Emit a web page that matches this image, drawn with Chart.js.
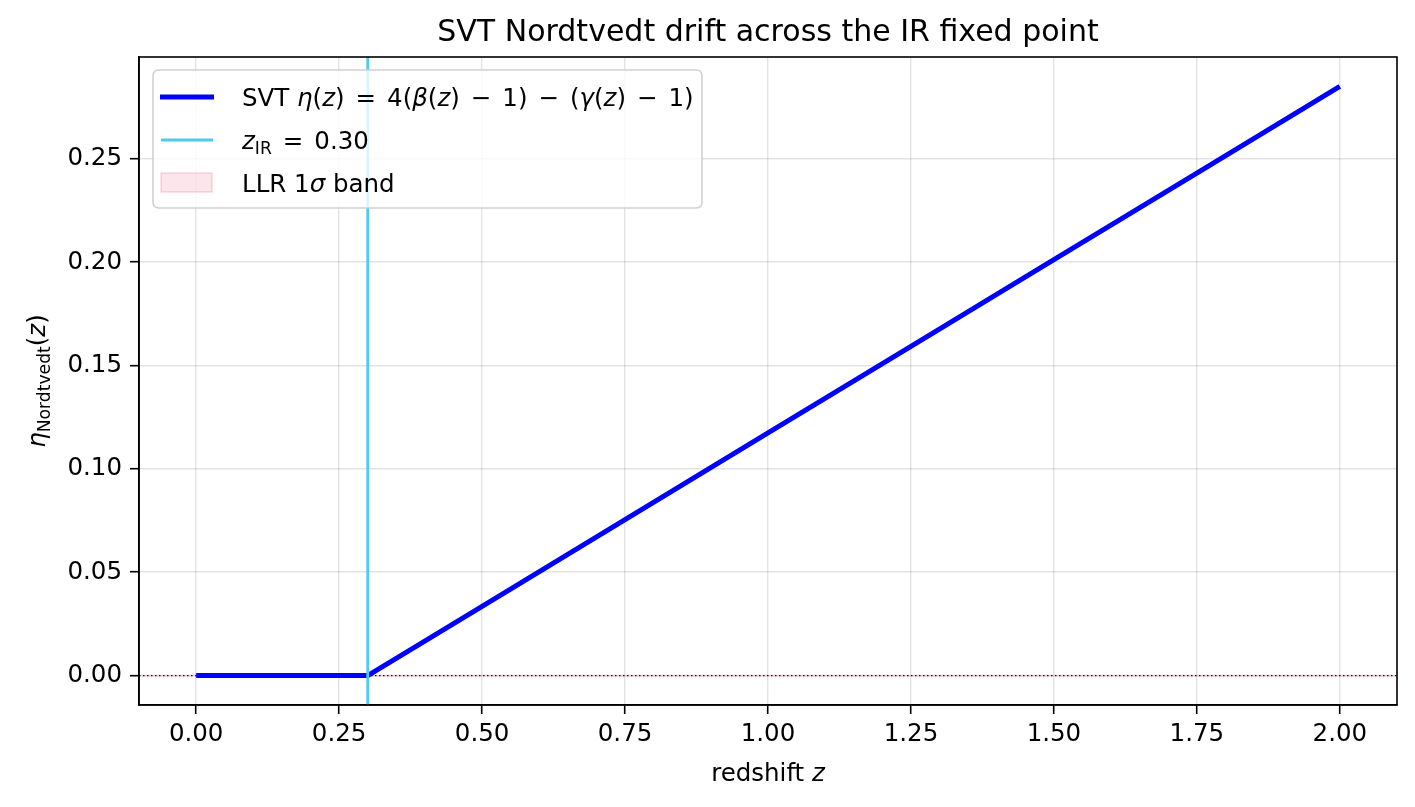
<!DOCTYPE html>
<html><head><meta charset="utf-8">
<script src="https://cdn.jsdelivr.net/npm/chart.js@4/dist/chart.umd.min.js"></script>
<style>html,body{margin:0;padding:0;background:#fff}#wrap{width:1415px;height:807px}</style>
</head><body><div id="wrap"><canvas id="c" width="1415" height="807"></canvas></div>
<script>
// ---- data ----
const zValues   = [0.00, 0.10, 0.20, 0.30, 0.50, 0.75, 1.00, 1.25, 1.50, 1.75, 2.00];
const etaValues = [0.000, 0.000, 0.000, 0.000, 0.0335, 0.0754, 0.1174, 0.1593, 0.2012, 0.2431, 0.2850];
const zIR = 0.30;
const llrBandHalf = 0.00045;
const xRange = [-0.10, 2.10];
const yRange = [-0.01425, 0.29925];
const xTicks = [0, 0.25, 0.5, 0.75, 1.0, 1.25, 1.5, 1.75, 2.0];
const yTicks = [0, 0.05, 0.10, 0.15, 0.20, 0.25];
const titleText = "SVT Nordtvedt drift across the IR fixed point";

const FONT = "'DejaVu Sans', 'Liberation Sans', sans-serif";
const FS = 24.5;

function drawRuns(ctx, runs, x, y, size, align) {
  // runs: {t, it, sub} or {gap}
  ctx.save();
  ctx.textBaseline = 'alphabetic';
  ctx.textAlign = 'left';
  const widths = runs.map(r => {
    if (r.gap) return r.gap;
    const s = r.sub ? size * 0.7 : size;
    ctx.font = (r.it ? 'italic ' : '') + s + 'px ' + FONT;
    return ctx.measureText(r.t).width;
  });
  const total = widths.reduce((a, b) => a + b, 0);
  let cx = align === 'center' ? x - total / 2 : x;
  runs.forEach((r, i) => {
    if (!r.gap) {
      const s = r.sub ? size * 0.7 : size;
      ctx.font = (r.it ? 'italic ' : '') + s + 'px ' + FONT;
      ctx.fillText(r.t, cx, y + (r.sub ? size * 0.22 : 0));
    }
    cx += widths[i];
  });
  ctx.restore();
  return total;
}

const G = {gap: 3.2};
const decor = {
  id: 'decor',
  afterDraw(chart) {
    const ctx = chart.ctx, a = chart.chartArea;
    ctx.save();
    // frame
    ctx.strokeStyle = '#000'; ctx.lineWidth = 1.6;
    ctx.strokeRect(a.left, a.top, a.right - a.left, a.bottom - a.top);
    ctx.fillStyle = '#000';
    // title
    ctx.font = '30px ' + FONT; ctx.textAlign = 'center'; ctx.textBaseline = 'alphabetic';
    ctx.fillText(titleText, (a.left + a.right) / 2, 41);
    // x label
    drawRuns(ctx, [{t: 'redshift '}, {t: 'z', it: true}], (a.left + a.right) / 2, 781, FS, 'center');
    // y label (rotated)
    ctx.save();
    ctx.translate(45, (a.top + a.bottom) / 2);
    ctx.rotate(-Math.PI / 2);
    drawRuns(ctx, [{t: 'η', it: true}, {t: 'Nordtvedt', sub: true}, {t: '('}, {t: 'z', it: true}, {t: ')'}], 0, 0, FS, 'center');
    ctx.restore();
    // legend
    const lx = 153, ly = 70, lw = 549, lh = 138, r = 6;
    ctx.beginPath();
    ctx.moveTo(lx + r, ly); ctx.lineTo(lx + lw - r, ly); ctx.quadraticCurveTo(lx + lw, ly, lx + lw, ly + r);
    ctx.lineTo(lx + lw, ly + lh - r); ctx.quadraticCurveTo(lx + lw, ly + lh, lx + lw - r, ly + lh);
    ctx.lineTo(lx + r, ly + lh); ctx.quadraticCurveTo(lx, ly + lh, lx, ly + lh - r);
    ctx.lineTo(lx, ly + r); ctx.quadraticCurveTo(lx, ly, lx + r, ly); ctx.closePath();
    ctx.fillStyle = 'rgba(255,255,255,0.8)'; ctx.fill();
    ctx.strokeStyle = 'rgba(204,204,204,0.9)'; ctx.lineWidth = 1.6; ctx.stroke();
    // handles
    ctx.lineCap = 'butt';
    ctx.strokeStyle = '#0000ff'; ctx.lineWidth = 5;
    ctx.beginPath(); ctx.moveTo(160, 97); ctx.lineTo(214, 97); ctx.stroke();
    ctx.strokeStyle = '#4fc8f2'; ctx.lineWidth = 2.8;
    ctx.beginPath(); ctx.moveTo(161, 140); ctx.lineTo(213, 140); ctx.stroke();
    ctx.fillStyle = 'rgba(220,20,60,0.1)'; ctx.fillRect(161, 173, 51, 19);
    ctx.strokeStyle = 'rgba(220,20,60,0.2)'; ctx.lineWidth = 1.2; ctx.strokeRect(161, 173, 51, 19);
    ctx.fillStyle = '#000';
    drawRuns(ctx, [{t: 'SVT '}, {t: 'η', it: true}, {t: '('}, {t: 'z', it: true}, {t: ')'}, G, {t: ' = '}, G, {t: '4('},
      {t: 'β', it: true}, {t: '('}, {t: 'z', it: true}, {t: ')'}, G, {t: ' − '}, G, {t: '1)'}, G, {t: ' − '}, G, {t: '('}, {t: 'γ', it: true},
      {t: '('}, {t: 'z', it: true}, {t: ')'}, G, {t: ' − '}, G, {t: '1)'}], 242, 106, FS, 'left');
    drawRuns(ctx, [{t: 'z', it: true}, {t: 'IR', sub: true}, G, {t: ' = '}, G, {t: '0.30'}], 242, 149, FS, 'left');
    drawRuns(ctx, [{t: 'LLR 1'}, {t: 'σ', it: true}, {t: ' band'}], 242, 192, FS, 'left');
    ctx.restore();
  }
};

const mainLine = zValues.map((z, i) => ({x: z, y: etaValues[i]}));

new Chart(document.getElementById('c'), {
  type: 'line',
  data: {
    datasets: [
      { label: 'zIR', data: [{x: zIR, y: yRange[0]}, {x: zIR, y: yRange[1]}], borderColor: '#4fc8f2',
        borderWidth: 2.8, pointRadius: 0, order: 0 },
      { label: 'SVT', data: mainLine, borderColor: '#0000ff', borderWidth: 5, pointRadius: 0, order: 1,
        borderJoinStyle: 'round', tension: 0 },
      { label: 'zero', data: [{x: xRange[0], y: 0}, {x: xRange[1], y: 0}], borderColor: '#3a0a10',
        borderWidth: 1.3, borderDash: [1.5, 2.5], pointRadius: 0, order: 2 },
      { label: 'LLR', data: [{x: xRange[0], y: llrBandHalf}, {x: xRange[1], y: llrBandHalf}],
        borderWidth: 0, borderColor: 'rgba(0,0,0,0)', backgroundColor: 'rgba(220,20,60,0.12)',
        fill: {value: -llrBandHalf}, pointRadius: 0, order: 3 }
    ]
  },
  options: {
    responsive: false, animation: false, events: [],
    layout: { padding: { top: 57, right: 18, left: 0, bottom: 0 } },
    plugins: { legend: { display: false }, title: { display: false }, tooltip: { enabled: false } },
    scales: {
      x: {
        type: 'linear', min: xRange[0], max: xRange[1],
        afterBuildTicks: s => { s.ticks = xTicks.map(v => ({value: v})); },
        afterFit: s => { s.height = 102; },
        grid: { color: 'rgba(0,0,0,0.11)', lineWidth: 1.4, tickColor: '#000', tickLength: 9, tickWidth: 1.6 },
        border: { display: true, color: '#000', width: 1.6 },
        ticks: { color: '#000', font: { family: FONT, size: FS }, padding: 6, maxRotation: 0,
          callback: v => Number(v).toFixed(2) }
      },
      y: {
        type: 'linear', min: yRange[0], max: yRange[1],
        afterBuildTicks: s => { s.ticks = yTicks.map(v => ({value: v})); },
        afterFit: s => { s.width = 139; },
        grid: { color: 'rgba(0,0,0,0.11)', lineWidth: 1.4, tickColor: '#000', tickLength: 9, tickWidth: 1.6 },
        border: { display: true, color: '#000', width: 1.6 },
        ticks: { color: '#000', font: { family: FONT, size: FS }, padding: 8,
          callback: v => Number(v).toFixed(2) }
      }
    }
  },
  plugins: [decor]
});
</script></body></html>
